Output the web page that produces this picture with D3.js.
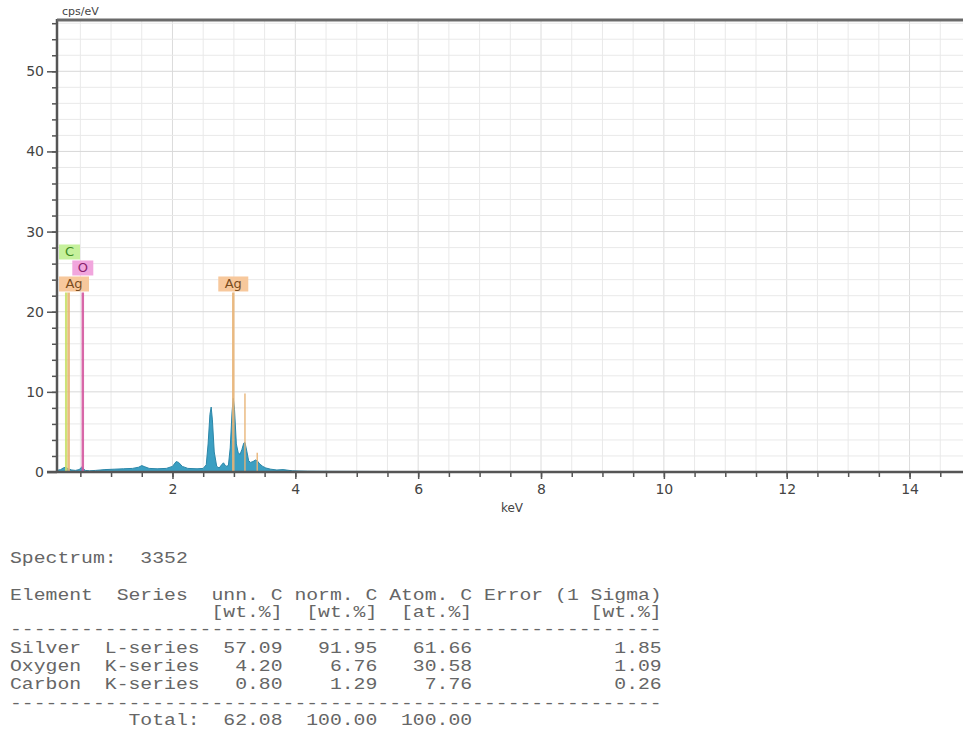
<!DOCTYPE html>
<html>
<head>
<meta charset="utf-8">
<script src="https://cdn.jsdelivr.net/npm/d3@7"></script>
<style>
  body { margin: 0; background: #fff; }
  .tick text { font-family: "DejaVu Sans", sans-serif; fill: #444; }
  .tbl text { font-family: "Liberation Mono", monospace; font-size: 16px; fill: #666; white-space: pre; }
</style>
</head>
<body>
<div id="viz"></div>
<script>
// EDS spectrum (keV -> cps/eV)
var spectrumKeV = [0.12, 0.18, 0.22, 0.26, 0.30, 0.36, 0.42, 0.48, 0.52, 0.55,
  0.58, 0.65, 0.75, 0.9, 1.05, 1.2, 1.35, 1.45, 1.5, 1.55,
  1.62, 1.75, 1.9, 2.0, 2.06, 2.1, 2.16, 2.25, 2.4, 2.5,
  2.55, 2.58, 2.61, 2.63, 2.65, 2.68, 2.72, 2.76, 2.8, 2.83,
  2.87, 2.91, 2.94, 2.97, 2.99, 3.01, 3.04, 3.07, 3.1, 3.13,
  3.16, 3.18, 3.21, 3.24, 3.27, 3.31, 3.35, 3.38, 3.42, 3.47,
  3.52, 3.6, 3.7, 3.8, 3.95, 4.2, 4.6, 5.2, 6.0, 7.0,
  8.5, 10.5, 12.5, 14.9];
var spectrumCps = [0.2, 0.3, 0.5, 0.6, 0.4, 0.25, 0.2, 0.3, 0.6, 0.4,
  0.2, 0.15, 0.2, 0.3, 0.35, 0.4, 0.45, 0.6, 0.8, 0.65,
  0.45, 0.4, 0.45, 0.7, 1.3, 1.2, 0.7, 0.45, 0.4, 0.45,
  0.9, 3.5, 7.2, 8.1, 6.5, 2.5, 0.7, 0.5, 0.9, 1.15,
  0.7, 0.8, 3.0, 7.5, 9.2, 7.8, 3.5, 2.4, 2.2, 2.8,
  3.6, 3.7, 2.6, 1.4, 1.2, 1.3, 1.5, 1.4, 1.0, 0.7,
  0.5, 0.35, 0.25, 0.3, 0.15, 0.1, 0.08, 0.07, 0.05, 0.04,
  0.03, 0.02, 0.02, 0.02];

// element marker lines
var markerEl = ["C", "Ag", "O", "Ag", "Ag", "Ag"];
var markerKeV = [0.27, 0.31, 0.54, 2.99, 3.18, 3.38];
var markerCps = [22.4, 22.4, 22.4, 22.4, 9.8, 2.4];
var markerLabel = [true, true, true, true, false, false];

// quantification table
var tblElement = ["Silver", "Oxygen", "Carbon"];
var tblSeries = ["L-series", "K-series", "K-series"];
var tblUnn = ["57.09", "4.20", "0.80"];
var tblNorm = ["91.95", "6.76", "1.29"];
var tblAtom = ["61.66", "30.58", "7.76"];
var tblErr = ["1.85", "1.09", "0.26"];
var tblTotal = ["62.08", "100.00", "100.00"];
var spectrumId = "3352";

var elColor = {
  Ag: { line: "#e9b476", box: "#f7c89c", text: "#7a4c1c" },
  O: { line: "#d4589f", box: "#f1a6dd", text: "#8a1f6e" },
  C: { line: "#c9e06a", box: "#c6f19c", text: "#3d8a1f" }
};

var W = 963, H = 732;
var mLeft = 57, mRight = 963, mTop = 20, mBottom = 472;

var svg = d3.select("#viz").append("svg")
  .attr("width", W)
  .attr("height", H);

var x = d3.scaleLinear().domain([0.12, 14.87]).range([mLeft, mRight]);
var y = d3.scaleLinear().domain([0, 56.4]).range([mBottom, mTop]);

// grid
var grid = svg.append("g");
grid.selectAll(".vg")
  .data(d3.range(0.5, 15, 0.5))
  .enter().append("line")
  .attr("x1", d => x(d)).attr("x2", d => x(d))
  .attr("y1", mTop).attr("y2", mBottom)
  .attr("stroke", d => d % 2 == 0 ? "#dcdcdc" : "#e9e9e9")
  .attr("stroke-width", 1);
grid.selectAll(".hg")
  .data(d3.range(2, 57, 2))
  .enter().append("line")
  .attr("x1", mLeft).attr("x2", mRight)
  .attr("y1", d => y(d)).attr("y2", d => y(d))
  .attr("stroke", d => d % 10 == 0 ? "#d8d8d8" : "#e9e9e9")
  .attr("stroke-width", 1);

// spectrum area
var pts = spectrumKeV.map((k, i) => [k, spectrumCps[i]]);
var area = d3.area()
  .x(d => x(d[0]))
  .y0(y(0))
  .y1(d => y(d[1]));
svg.append("path")
  .datum(pts)
  .attr("d", area)
  .attr("fill", "#3b9fc2")
  .attr("stroke", "#2b86a8")
  .attr("stroke-width", 1);

// marker lines
var markers = markerEl.map((e, i) => ({ el: e, kev: markerKeV[i], cps: markerCps[i], label: markerLabel[i] }));
svg.selectAll(".mk")
  .data(markers)
  .enter().append("line")
  .attr("x1", d => x(d.kev)).attr("x2", d => x(d.kev))
  .attr("y1", y(0)).attr("y2", d => y(d.cps))
  .attr("stroke", d => elColor[d.el].line)
  .attr("stroke-width", d => d.label ? 2.5 : 1.5)
  .attr("opacity", 0.9);

// labels, stacked when they would overlap (Ag first, then O, then C)
var order = ["Ag", "O", "C"];
var labeled = markers.filter(d => d.label)
  .sort((a, b) => order.indexOf(a.el) - order.indexOf(b.el) || a.kev - b.kev);
var placed = [];
var boxH = 16;
labeled.forEach(function (d) {
  var w = d.el.length * 9 + 12;
  var x0 = Math.max(mLeft + 2, x(d.kev) - w / 2);
  var lvl = 0;
  while (placed.some(p => p.lvl == lvl && p.x0 < x0 + w && x0 < p.x0 + p.w)) lvl++;
  placed.push({ x0: x0, w: w, lvl: lvl, d: d });
});
var lab = svg.selectAll(".lab")
  .data(placed)
  .enter().append("g");
lab.append("rect")
  .attr("x", p => p.x0)
  .attr("y", p => y(p.d.cps) - boxH * (p.lvl + 1))
  .attr("width", p => p.w)
  .attr("height", boxH - 1)
  .attr("fill", p => elColor[p.d.el].box);
lab.append("text")
  .attr("x", p => p.x0 + p.w / 2)
  .attr("y", p => y(p.d.cps) - boxH * p.lvl - 4)
  .attr("text-anchor", "middle")
  .style("font-family", "DejaVu Sans, sans-serif")
  .style("font-size", "13px")
  .attr("fill", p => elColor[p.d.el].text)
  .text(p => p.d.el);

// axes
var xMinor = svg.append("g")
  .attr("transform", "translate(0," + mBottom + ")")
  .call(d3.axisBottom(x).tickValues(d3.range(0.5, 15, 0.5)).tickSize(5).tickFormat(""));
var xMajor = svg.append("g")
  .attr("transform", "translate(0," + mBottom + ")")
  .call(d3.axisBottom(x).tickValues(d3.range(2, 15, 2)).tickSize(7).tickPadding(5).tickFormat(d3.format("d")));
var yMinor = svg.append("g")
  .attr("transform", "translate(" + mLeft + ",0)")
  .call(d3.axisLeft(y).tickValues(d3.range(2, 57, 2)).tickSize(5).tickFormat(""));
var yMajor = svg.append("g")
  .attr("transform", "translate(" + mLeft + ",0)")
  .call(d3.axisLeft(y).tickValues(d3.range(0, 51, 10)).tickSize(10).tickPadding(3).tickFormat(d3.format("d")));

[xMinor, xMajor, yMinor, yMajor].forEach(function (g) {
  g.select(".domain").remove();
  g.selectAll(".tick line").attr("stroke", "#555").attr("stroke-width", 1.5);
  g.selectAll(".tick text").style("font-size", "14px");
});

svg.append("line")
  .attr("x1", mLeft - 10).attr("x2", mRight)
  .attr("y1", mBottom).attr("y2", mBottom)
  .attr("stroke", "#555").attr("stroke-width", 2.5);
svg.append("line")
  .attr("x1", mLeft).attr("x2", mLeft)
  .attr("y1", mTop - 1).attr("y2", mBottom)
  .attr("stroke", "#555").attr("stroke-width", 2.5);
svg.append("line")
  .attr("x1", mLeft).attr("x2", mRight)
  .attr("y1", mTop).attr("y2", mTop)
  .attr("stroke", "#6a6a6a").attr("stroke-width", 3);

svg.append("text")
  .attr("x", 62).attr("y", 15)
  .style("font-family", "DejaVu Sans, sans-serif")
  .style("font-size", "11px")
  .attr("fill", "#444")
  .text("cps/eV");
svg.append("text")
  .attr("x", 512).attr("y", 512)
  .attr("text-anchor", "middle")
  .style("font-family", "DejaVu Sans, sans-serif")
  .style("font-size", "12px")
  .attr("fill", "#444")
  .text("keV");

// table (monospaced report)
function rpad(s, n) { return (s + "").padStart(n, " "); }
var lines = [
  { t: "Spectrum:  " + spectrumId, y: 563 },
  { t: "Element  Series  unn. C norm. C Atom. C Error (1 Sigma)", y: 600 },
  { t: " ".repeat(17) + "[wt.%]  [wt.%]  [at.%]" + " ".repeat(10) + "[wt.%]", y: 617 },
  { t: "-".repeat(55), y: 634 }
];
tblElement.forEach(function (e, i) {
  lines.push({
    t: e.padEnd(8) + tblSeries[i] + rpad(tblUnn[i], 7) + rpad(tblNorm[i], 8) + rpad(tblAtom[i], 8) + rpad(tblErr[i], 16),
    y: 653 + i * 18
  });
});
lines.push({ t: "-".repeat(55), y: 708 });
lines.push({ t: " ".repeat(10) + "Total:" + rpad(tblTotal[0], 7) + rpad(tblTotal[1], 8) + rpad(tblTotal[2], 8), y: 725 });

var charW = 11.85;
var sx = charW / 9.6;
var tbl = svg.append("g")
  .attr("class", "tbl")
  .attr("transform", "translate(10,0) scale(" + sx + ",1)");
tbl.selectAll("text")
  .data(lines)
  .enter().append("text")
  .attr("x", 0)
  .attr("y", d => d.y)
  .attr("xml:space", "preserve")
  .text(d => d.t);
</script>
</body>
</html>
